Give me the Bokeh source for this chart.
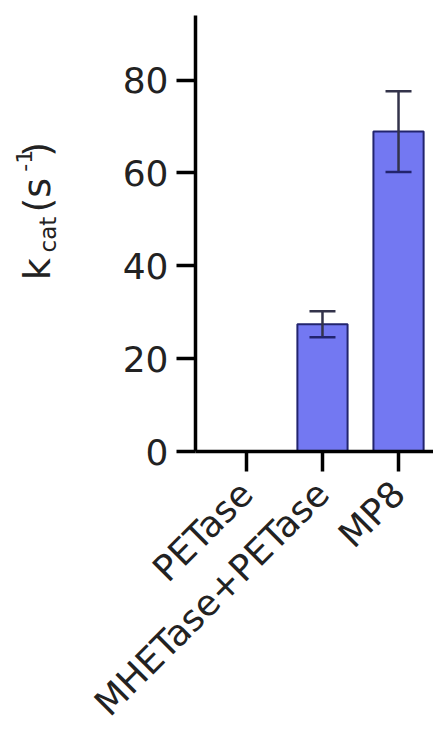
from bokeh.plotting import figure
from bokeh.layouts import row
from bokeh.models import ColumnDataSource, Range1d, FixedTicker, Whisker, TeeHead
from bokeh.core.properties import value
from bokeh.embed import file_html
from bokeh.resources import INLINE
import math

# ---- data ----
categories = ["PETase", "MHETase+PETase", "MP8"]
kcat = [0.0, 27.4, 68.9]
kcat_err = [0.0, 2.8, 8.7]

# y-axis title pieces: k_cat (s^-1)
label_texts = ["k", "cat", "(s", "-1", ")"]

FONT = "DejaVu Sans"

xpos = list(range(len(categories)))
src = ColumnDataSource(dict(x=xpos, top=kcat))
err_src = ColumnDataSource(dict(
    x=[x for x, e in zip(xpos, kcat_err) if e > 0],
    upper=[v + e for v, e in zip(kcat, kcat_err) if e > 0],
    lower=[v - e for v, e in zip(kcat, kcat_err) if e > 0],
))

H = 741
LW = 75            # width of the y-title strip
W = 433 - LW       # main figure width
FT, FB = 15, 453   # frame top / bottom on the page
X0, X1 = -0.67, 2.46
Y0, Y1 = 0, 93.9

p = figure(width=W, height=H, output_backend="svg", toolbar_location=None,
           x_range=Range1d(X0, X1), y_range=Range1d(Y0, Y1),
           min_border_left=195 - LW, min_border_right=0,
           min_border_top=FT, min_border_bottom=H - FB)
p.outline_line_color = None
p.xgrid.visible = False
p.ygrid.visible = False

p.vbar(x="x", top="top", width=0.66, source=src,
       fill_color="#7378F2", line_color="#22246e", line_width=2)

wh = Whisker(base="x", upper="upper", lower="lower", source=err_src, level="overlay",
             line_color="#33334a", line_width=2.5,
             upper_head=TeeHead(size=26, line_color="#33334a", line_width=2.5),
             lower_head=TeeHead(size=26, line_color="#22246e", line_width=2.5))
p.add_layout(wh)

for ax in (p.xaxis[0], p.yaxis[0]):
    ax.axis_line_width = 3.5
    ax.axis_line_color = "black"
    ax.major_tick_line_width = 3.5
    ax.major_tick_line_color = "black"
    ax.major_tick_in = 0
    ax.minor_tick_line_color = None
    ax.major_label_text_font = FONT
    ax.major_label_text_color = "#222222"

p.yaxis.ticker = FixedTicker(ticks=[0, 20, 40, 60, 80])
p.yaxis.major_tick_out = 19
p.yaxis.major_label_standoff = 8
p.yaxis.major_label_text_font_size = "36px"

p.xaxis.ticker = FixedTicker(ticks=xpos)
p.xaxis.major_label_overrides = {i: c for i, c in enumerate(categories)}
p.xaxis.major_tick_out = 20
p.xaxis.major_label_standoff = 16
p.xaxis.major_label_orientation = math.pi / 4
p.xaxis.major_label_text_font_size = "36px"

# ---- y-title strip; its frame is aligned with the main frame (page y FT..FB) ----
t = figure(width=LW, height=H, output_backend="svg", toolbar_location=None,
           x_range=Range1d(0, LW), y_range=Range1d(FB, FT),
           min_border_left=0, min_border_right=0, min_border_top=0, min_border_bottom=0,
           x_axis_type=None, y_axis_type=None)
t.outline_line_color = None
t.xgrid.visible = False
t.ygrid.visible = False

pos_x = [36, 47, 36, 23, 36]
pos_y = [281, 253, 213, 172, 157]
sizes = ["38px", "23px", "38px", "22px", "38px"]
for txt, px_, py_, fs in zip(label_texts, pos_x, pos_y, sizes):
    t.text(x=[px_], y=[py_], text=[txt], angle=math.pi / 2,
           text_font=value(FONT), text_font_size=fs, text_color="#222222",
           text_align="left", text_baseline="alphabetic")

layout = row(t, p, spacing=0)
open("out.html", "w").write(file_html(layout, INLINE))
